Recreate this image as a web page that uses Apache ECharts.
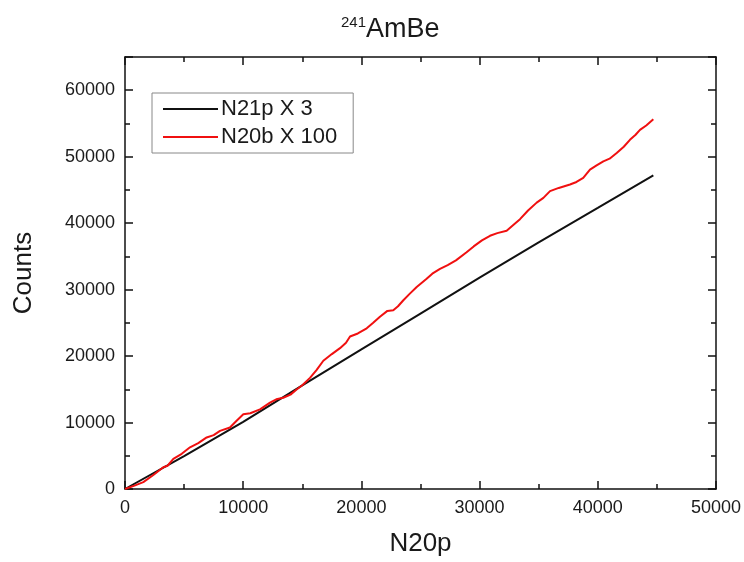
<!DOCTYPE html>
<html>
<head>
<meta charset="utf-8">
<script src="https://cdn.jsdelivr.net/npm/echarts@6/dist/echarts.min.js"></script>
<style>html,body{margin:0;padding:0;background:#fff}#c{width:744px;height:562px}</style>
</head>
<body>
<div id="c"></div>
<script>
// ---- data ----
var xTicks = [0, 10000, 20000, 30000, 40000, 50000];
var yTicks = [0, 10000, 20000, 30000, 40000, 50000, 60000];
var seriesNames = ['N21p X 3', 'N20b X 100'];
var n21pX3 = [[0,0],[5000,4950],[10000,10100],[15000,15600],[20000,21000],[25000,26400],[30000,31800],[35000,37100],[40000,42300],[44700,47200]];
var n20bX100 = [[0,0],[800,500],[1550,1040],[2400,2100],[3240,3280],[3600,3500],[4090,4530],[4800,5300],[5500,6270],[6200,6900],[6910,7760],[7500,8100],[8040,8750],[8880,9250],[9400,10200],[10010,11240],[10600,11400],[11420,11990],[12270,12990],[12800,13500],[13390,13730],[14000,14200],[14520,14970],[15000,15600],[15650,16720],[16200,17900],[16780,19300],[17500,20300],[18190,21190],[18700,22000],[19040,22940],[19700,23400],[20450,24180],[21000,25000],[21570,25920],[22200,26800],[22700,26910],[23100,27500],[23550,28400],[24100,29400],[24680,30400],[25520,31640],[26000,32400],[26650,33130],[27300,33700],[28000,34400],[28900,35620],[29500,36500],[30200,37400],[30880,38100],[31500,38500],[32290,38850],[32900,39800],[33420,40600],[34100,41900],[34830,43090],[35400,43800],[35960,44820],[36700,45300],[37650,45820],[38200,46200],[38770,46820],[39340,48060],[39900,48700],[40470,49300],[41000,49700],[41600,50550],[42200,51500],[42720,52540],[43200,53300],[43570,54030],[44100,54700],[44700,55630]];

var FONT = 'Liberation Sans, Arial, sans-serif';
var TXT = '#1a1a1a';
var chart = echarts.init(document.getElementById('c'), null, {renderer: 'canvas'});

function axisBase(show) {
  return {
    axisLine: {show: true, onZero: false, lineStyle: {color: '#111', width: 1.5}},
    axisTick: {show: true, inside: true, length: 8, lineStyle: {color: '#111', width: 1.5}},
    minorTick: {show: true, splitNumber: 2, length: 5, lineStyle: {color: '#111', width: 1.5}},
    splitLine: {show: false},
    axisLabel: {show: show, color: TXT, fontSize: 18, fontFamily: FONT, margin: 10}
  };
}

var option = {
  backgroundColor: '#fff',
  animation: false,
  title: {
    text: '{sup|241}{main|AmBe}',
    left: 336, top: 10,
    textStyle: {
      fontWeight: 'normal',
      rich: {
        sup: {fontSize: 15, fontWeight: 'normal', fontFamily: FONT, color: TXT, padding: [0, 0, 14, 0]},
        main: {fontSize: 27, fontWeight: 'normal', fontFamily: FONT, color: TXT}
      }
    }
  },
  legend: {
    data: seriesNames,
    orient: 'vertical',
    left: 152, top: 93,
    icon: 'rect',
    itemWidth: 55, itemHeight: 2, itemGap: 6,
    padding: [5, 16, 5, 11],
    borderColor: '#888', borderWidth: 1,
    textStyle: {fontSize: 22, fontFamily: FONT, color: TXT, padding: [0, 0, 0, -2], lineHeight: 22}
  },
  grid: {left: 125, right: 28, top: 57, bottom: 70, containLabel: false},
  xAxis: [
    Object.assign(axisBase(true), {
      type: 'value', position: 'bottom', min: 0, max: 50000, interval: 10000,
      name: 'N20p', nameLocation: 'middle', nameGap: 42,
      nameTextStyle: {fontSize: 26, fontFamily: FONT, color: TXT},
      axisLabel: {show: true, color: TXT, fontSize: 18, fontFamily: FONT, margin: 10,
        formatter: function (v) { return xTicks.indexOf(v) >= 0 ? String(v) : ''; }}
    }),
    Object.assign(axisBase(false), {
      type: 'value', position: 'top', min: 0, max: 50000, interval: 10000
    })
  ],
  yAxis: [
    Object.assign(axisBase(true), {
      type: 'value', position: 'left', min: 0, max: 65000, interval: 10000,
      name: 'Counts', nameLocation: 'middle', nameGap: 88,
      nameTextStyle: {fontSize: 26, fontFamily: FONT, color: TXT},
      axisLabel: {show: true, color: TXT, fontSize: 18, fontFamily: FONT, margin: 10,
        formatter: function (v) { return yTicks.indexOf(v) >= 0 ? String(v) : ''; }}
    }),
    Object.assign(axisBase(false), {
      type: 'value', position: 'right', min: 0, max: 65000, interval: 10000
    })
  ],
  series: [
    {name: seriesNames[0], type: 'line', data: n21pX3, showSymbol: false, symbol: 'none',
      lineStyle: {color: '#111', width: 2}, itemStyle: {color: '#111'}},
    {name: seriesNames[1], type: 'line', data: n20bX100, showSymbol: false, symbol: 'none',
      lineStyle: {color: '#f01010', width: 2}, itemStyle: {color: '#f01010'}}
  ]
};
chart.setOption(option);
</script>
</body>
</html>
